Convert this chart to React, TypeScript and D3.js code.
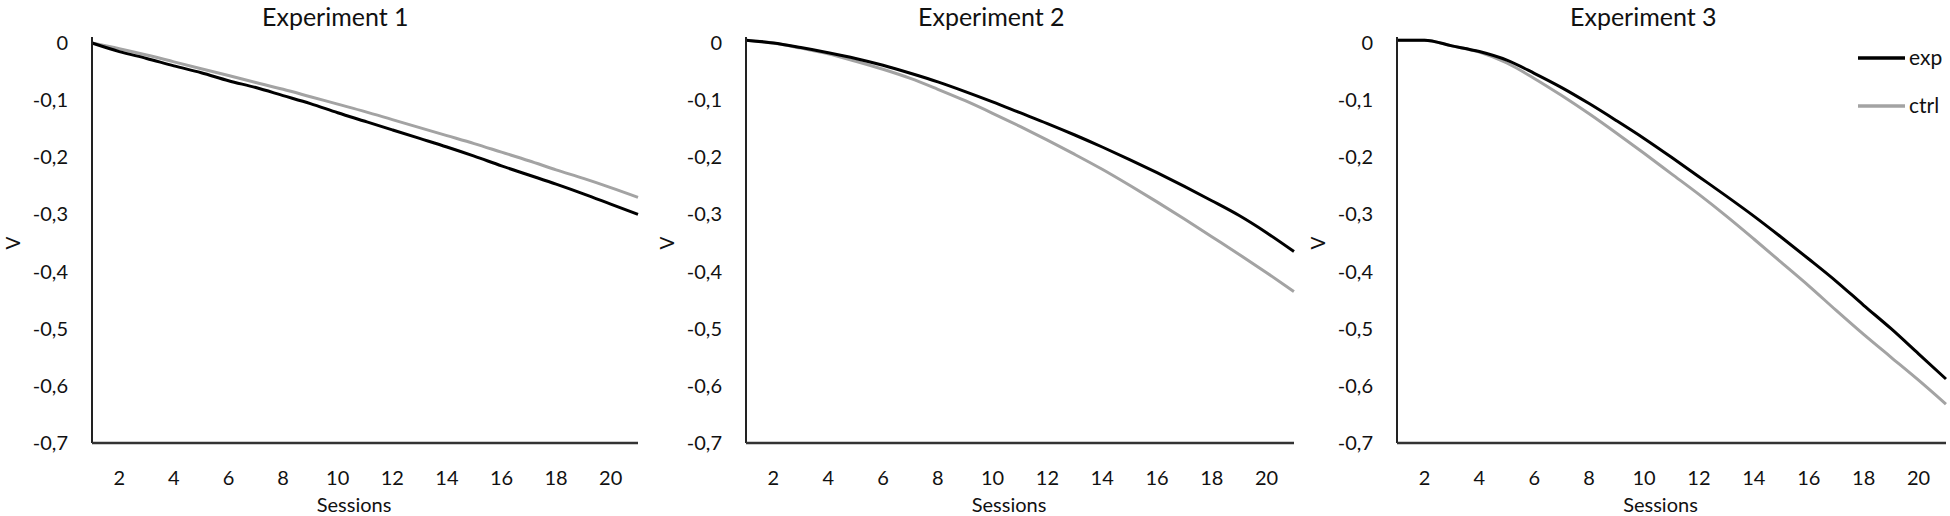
import * as d3 from 'd3';

// sessions 1..21, one value per session
const SESSIONS = d3.range(1, 22);

const EXP1_EXP = [0, -0.015, -0.027, -0.04, -0.052, -0.066, -0.078, -0.092, -0.106, -0.122, -0.137, -0.152, -0.167, -0.182, -0.198, -0.215, -0.231, -0.247, -0.264, -0.282, -0.3];
const EXP1_CTRL = [0, -0.01, -0.021, -0.033, -0.045, -0.057, -0.069, -0.081, -0.094, -0.107, -0.12, -0.134, -0.148, -0.162, -0.176, -0.191, -0.206, -0.222, -0.237, -0.253, -0.27];

const EXP2_EXP = [0.005, 0, -0.008, -0.017, -0.027, -0.039, -0.053, -0.068, -0.085, -0.103, -0.122, -0.141, -0.161, -0.182, -0.204, -0.227, -0.251, -0.276, -0.302, -0.332, -0.365];
const EXP2_CTRL = [0.005, 0, -0.009, -0.019, -0.032, -0.046, -0.062, -0.081, -0.101, -0.123, -0.146, -0.17, -0.195, -0.221, -0.249, -0.278, -0.308, -0.339, -0.37, -0.402, -0.435];

const EXP3_EXP = [0.005, 0.005, -0.005, -0.015, -0.03, -0.053, -0.078, -0.106, -0.136, -0.167, -0.2, -0.234, -0.268, -0.303, -0.34, -0.378, -0.417, -0.459, -0.5, -0.544, -0.588];
const EXP3_CTRL = [0.005, 0.005, -0.005, -0.016, -0.035, -0.062, -0.092, -0.124, -0.158, -0.193, -0.229, -0.265, -0.303, -0.343, -0.384, -0.425, -0.468, -0.51, -0.55, -0.59, -0.632];

const X_TICKS = [2, 4, 6, 8, 10, 12, 14, 16, 18, 20];
const Y_TICKS = [0, -0.1, -0.2, -0.3, -0.4, -0.5, -0.6, -0.7];

const FONT = 'Lato, "Open Sans", sans-serif';
const TOP = 43;
const BOTTOM = 443;
const GREY = '#a3a3a3';

const fmt = (v: number) => (v === 0 ? '0' : v.toFixed(1).replace('.', ','));

type PanelProps = {
  left: number;
  right: number;
  title: string;
  titleX: number;
  exp: number[];
  ctrl: number[];
  legend?: boolean;
};

const Panel = ({ left, right, title, titleX, exp, ctrl, legend }: PanelProps) => {
  const x = d3.scaleLinear().domain([1, 21]).range([left, right]);
  const y = d3.scaleLinear().domain([-0.7, 0]).range([BOTTOM, TOP]);
  const line = d3
    .line<number>()
    .x((_d, i) => x(SESSIONS[i]))
    .y((d) => y(d))
    .curve(d3.curveMonotoneX);

  return (
    <g fontFamily={FONT} fill="#111">
      <text x={titleX} y={26} fontSize={25}>
        {title}
      </text>
      {Y_TICKS.map((t) => (
        <text key={t} x={left - 24} y={y(t)} dy="0.35em" fontSize={20} textAnchor="end">
          {fmt(t)}
        </text>
      ))}
      {X_TICKS.map((t) => (
        <text key={t} x={x(t)} y={BOTTOM + 35} dy="0.35em" fontSize={20} textAnchor="middle">
          {t}
        </text>
      ))}
      <text x={x(10.6)} y={BOTTOM + 62} dy="0.35em" fontSize={20} textAnchor="middle">
        Sessions
      </text>
      <text
        transform={`translate(${left - 78},${(TOP + BOTTOM) / 2}) rotate(-90)`}
        dy="0.3em"
        fontSize={19}
        textAnchor="middle"
      >
        V
      </text>
      <path d={line(ctrl) ?? ''} fill="none" stroke={GREY} strokeWidth={3} />
      <path d={line(exp) ?? ''} fill="none" stroke="#000" strokeWidth={3} />
      <line x1={left} x2={left} y1={TOP - 6} y2={BOTTOM} stroke="#222" strokeWidth={2} />
      <line x1={left} x2={right} y1={BOTTOM} y2={BOTTOM} stroke="#333" strokeWidth={2.5} />
      {legend && (
        <g>
          <line x1={1858} x2={1905} y1={58} y2={58} stroke="#000" strokeWidth={3.5} />
          <text x={1909} y={58} dy="0.35em" fontSize={21}>
            exp
          </text>
          <line x1={1858} x2={1905} y1={106} y2={106} stroke={GREY} strokeWidth={3.5} />
          <text x={1909} y={106} dy="0.35em" fontSize={21}>
            ctrl
          </text>
        </g>
      )}
    </g>
  );
};

export default function App() {
  return (
    <svg
      width={1950}
      height={516}
      style={{ position: 'absolute', left: 0, top: 0, background: '#fff' }}
    >
      <Panel left={92} right={638} title="Experiment 1" titleX={262} exp={EXP1_EXP} ctrl={EXP1_CTRL} />
      <Panel left={746} right={1294} title="Experiment 2" titleX={918} exp={EXP2_EXP} ctrl={EXP2_CTRL} />
      <Panel left={1397} right={1946} title="Experiment 3" titleX={1570} exp={EXP3_EXP} ctrl={EXP3_CTRL} legend />
    </svg>
  );
}
